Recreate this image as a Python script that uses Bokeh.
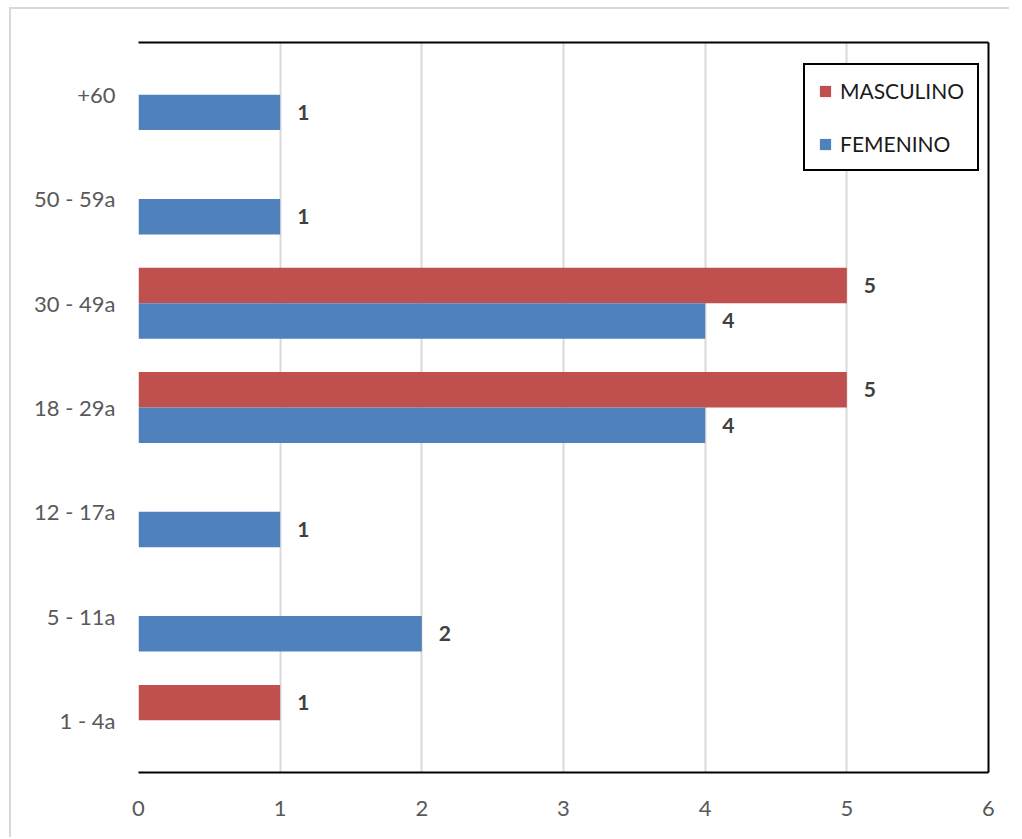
from bokeh.plotting import figure
from bokeh.models import (ColumnDataSource, LabelSet, Legend, LegendItem,
                          CategoricalAxis, LinearAxis, FactorRange, Range1d, FixedTicker)
from bokeh.transform import dodge
from bokeh.core.properties import value
from bokeh.embed import file_html
from bokeh.resources import INLINE

categories = ["1 - 4a", "5 - 11a", "12 - 17a", "18 - 29a", "30 - 49a", "50 - 59a", "+60"]
masculino = [1, 0, 0, 5, 5, 0, 0]
femenino = [0, 2, 1, 4, 4, 1, 1]
x_ticks = [0, 1, 2, 3, 4, 5, 6]
series_names = ["MASCULINO", "FEMENINO"]

RED = "#C0504D"
BLUE = "#4F81BD"
FONT = "Lato"

p = figure(y_range=FactorRange(factors=categories, range_padding=0),
           x_range=Range1d(x_ticks[0], x_ticks[-1]),
           width=1000, height=830, output_backend="svg", toolbar_location=None,
           min_border_left=127, min_border_right=23, min_border_top=33, min_border_bottom=67)
p.styles = {"border-left": "2px solid #d9d9d9", "border-top": "2px solid #d9d9d9",
            "margin-left": "9px", "margin-top": "7px"}
p.outline_line_color = None
p.background_fill_color = "white"
p.border_fill_color = "white"


def make_src(vals):
    cats = [c for c, v in zip(categories, vals) if v > 0]
    vs = [v for v in vals if v > 0]
    return ColumnDataSource(dict(cat=cats, val=vs, lbl=[str(v) for v in vs]))


src_m = make_src(masculino)
src_f = make_src(femenino)

OFF = 0.17
H = 0.34
r_m = p.hbar(y=dodge("cat", OFF, range=p.y_range), left=0, right="val", height=H,
             source=src_m, fill_color=RED, line_color=None)
r_f = p.hbar(y=dodge("cat", -OFF, range=p.y_range), left=0, right="val", height=H,
             source=src_f, fill_color=BLUE, line_color=None)

for src, off in ((src_m, OFF), (src_f, -OFF)):
    p.add_layout(LabelSet(x="val", y=dodge("cat", off, range=p.y_range), text="lbl", source=src,
                          x_offset=17, text_align="left", text_baseline="middle",
                          text_font=value(FONT), text_font_style="bold",
                          text_font_size="21px", text_color="#404040"))

# axes
p.xaxis.ticker = FixedTicker(ticks=x_ticks)
p.xaxis.major_tick_line_color = None
p.xaxis.minor_tick_line_color = None
p.xaxis.axis_line_color = "black"
p.xaxis.axis_line_width = 2
p.xaxis.major_label_text_font = FONT
p.xaxis.major_label_text_font_size = "22px"
p.xaxis.major_label_text_color = "#595959"
p.xaxis.major_label_standoff = 22

p.yaxis.axis_line_color = None
p.yaxis.major_tick_line_color = None
p.yaxis.minor_tick_line_color = None
p.yaxis.major_label_text_font = FONT
p.yaxis.major_label_text_font_size = "22px"
p.yaxis.major_label_text_color = "#595959"
p.yaxis.major_label_standoff = 17

p.xgrid.grid_line_color = "#d9d9d9"
p.xgrid.grid_line_width = 2
p.xgrid.ticker = FixedTicker(ticks=x_ticks)
p.ygrid.grid_line_color = None

top_axis = LinearAxis(ticker=FixedTicker(ticks=[]), axis_line_color="black", axis_line_width=2,
                      major_tick_line_color=None, minor_tick_line_color=None,
                      major_label_text_font_size="0px")
p.add_layout(top_axis, "above")
right_axis = CategoricalAxis(axis_line_color="black", axis_line_width=2,
                             major_tick_line_color=None, minor_tick_line_color=None,
                             major_label_text_font_size="0px", major_label_text_color=None)
p.add_layout(right_axis, "right")

legend = Legend(items=[LegendItem(label=series_names[0], renderers=[r_m]),
                       LegendItem(label=series_names[1], renderers=[r_f])],
                location=(665, 601),
                border_line_color="black", border_line_width=2, border_line_alpha=1,
                background_fill_color="white", background_fill_alpha=1,
                label_text_font=FONT, label_text_font_size="21px", label_text_color="#1a1a1a",
                glyph_width=14, glyph_height=14, label_height=24,
                label_standoff=8, padding=13, spacing=28, margin=0)
p.add_layout(legend, "center")

open("out.html", "w").write(file_html(p, INLINE))
